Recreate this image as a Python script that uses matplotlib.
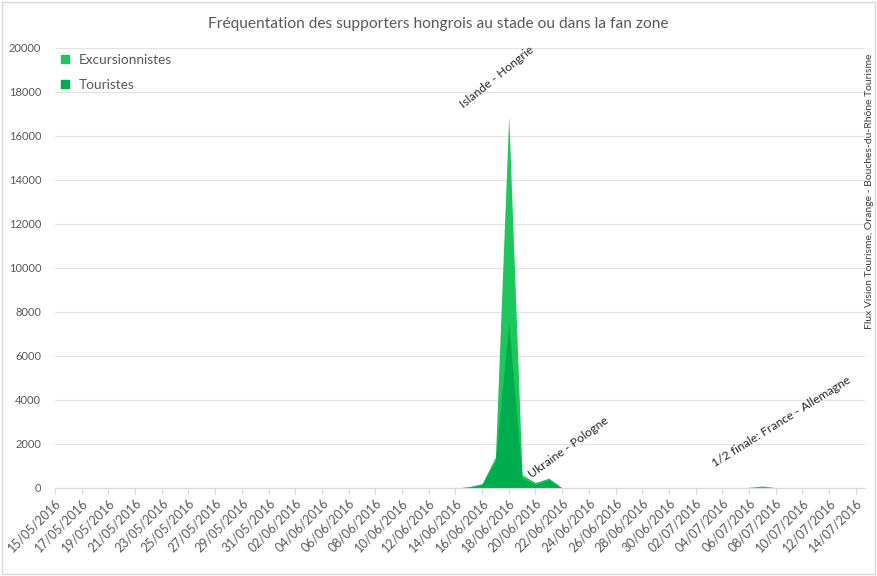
import numpy as np
import pandas as pd
import matplotlib
matplotlib.use("Agg")
import matplotlib.pyplot as plt
from matplotlib.lines import Line2D

plt.rcParams["font.family"] = ["Lato", "DejaVu Sans"]

# dates du 15/05/2016 au 14/07/2016
dates = pd.date_range("2016-05-15", "2016-07-14", freq="D")
labels = [d.strftime("%d/%m/%Y") for d in dates]

excursionnistes = [
    0, 0, 0, 0, 0, 0, 0, 0, 0, 0,
    0, 0, 0, 0, 0, 0, 0, 0, 0, 0,
    0, 0, 0, 0, 0, 0, 0, 0, 0, 0,
    0, 60, 200, 1400, 16900, 600, 250, 450, 0, 0,
    0, 0, 0, 0, 0, 0, 0, 0, 0, 0,
    0, 0, 30, 90, 20, 0, 0, 0, 0, 0,
    0,
]
touristes = [
    0, 0, 0, 0, 0, 0, 0, 0, 0, 0,
    0, 0, 0, 0, 0, 0, 0, 0, 0, 0,
    0, 0, 0, 0, 0, 0, 0, 0, 0, 0,
    0, 40, 150, 1250, 7500, 450, 150, 380, 0, 0,
    0, 0, 0, 0, 0, 0, 0, 0, 0, 0,
    0, 0, 10, 30, 5, 0, 0, 0, 0, 0,
    0,
]

matchs = ["Islande - Hongrie", "Ukraine - Pologne", "1/2 finale: France - Allemagne"]
match_x = [30.7, 35.8, 49.5]
match_y = [17200, 380, 850]
match_rot = [39, 36, 32]

c_exc = "#1ec75c"
c_tou = "#00ad4e"
gris = "#595959"

fig = plt.figure(figsize=(8.77, 5.76), dpi=100)
ax = fig.add_axes([0.0627, 0.1528, 0.9237, 0.7639])

x = np.arange(len(dates))
ax.fill_between(x, excursionnistes, color=c_exc, lw=0)
ax.fill_between(x, touristes, color=c_tou, lw=0)

ax.set_xlim(0, 60.7)
ax.set_ylim(0, 20000)
ax.set_yticks(range(0, 20001, 2000))
ax.set_xticks(x[::2])
ax.set_xticklabels(labels[::2], rotation=45, ha="right", rotation_mode="anchor",
                   fontsize=9, color=gris)
ax.tick_params(axis="y", length=0, labelsize=8, labelcolor=gris, pad=10)
ax.tick_params(axis="x", length=4, color="#d9d9d9", pad=2)
ax.grid(axis="y", color="#e3e3e3", lw=0.9)
ax.set_axisbelow(True)
for s in ["top", "right", "left"]:
    ax.spines[s].set_visible(False)
ax.spines["bottom"].set_color("#d9d9d9")

for t, mx, my, r in zip(matchs, match_x, match_y, match_rot):
    ax.text(mx, my, t, rotation=r, ha="left", va="bottom", rotation_mode="anchor",
            fontsize=8.7, color="#262626")

handles = [Line2D([], [], marker="s", ls="", color=c_exc, markersize=6),
           Line2D([], [], marker="s", ls="", color=c_tou, markersize=6)]
ax.legend(handles, ["Excursionnistes", "Touristes"], loc="upper left",
          bbox_to_anchor=(-0.02, 1.015), frameon=False, fontsize=9.8,
          labelspacing=1.0, handletextpad=0.0, labelcolor=gris)

fig.suptitle("Fréquentation des supporters hongrois au stade ou dans la fan zone",
             y=0.97, fontsize=11.2, color=gris)
fig.text(0.991, 0.667, "Flux Vision Tourisme, Orange - Bouches-du-Rhône Tourisme",
         rotation=90, ha="center", va="center", fontsize=7.5, color="#404040")

fig.patches.append(plt.Rectangle((0.002, 0.003), 0.996, 0.993, transform=fig.transFigure,
                                 fill=False, ec="#d9d9d9", lw=1))

fig.savefig("out.png", dpi=100)
